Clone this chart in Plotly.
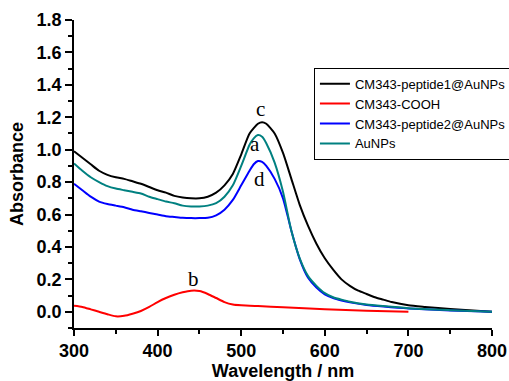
import plotly.graph_objects as go

wl_black = [300, 310, 320, 330, 340, 350, 360, 370, 380, 390, 400, 410, 420, 430, 440, 450, 460, 470, 480, 490, 500, 510, 520, 525, 530, 540, 550, 560, 570, 580, 590, 600, 610, 620, 630, 640, 650, 660, 670, 680, 700, 720, 750, 800]
abs_black = [0.99, 0.95, 0.91, 0.87, 0.845, 0.83, 0.82, 0.805, 0.79, 0.77, 0.75, 0.735, 0.715, 0.705, 0.70, 0.70, 0.71, 0.735, 0.78, 0.85, 0.97, 1.10, 1.16, 1.17, 1.16, 1.10, 0.98, 0.82, 0.66, 0.53, 0.42, 0.33, 0.26, 0.20, 0.16, 0.13, 0.11, 0.09, 0.075, 0.06, 0.04, 0.03, 0.017, 0.0]

wl_teal = [300, 310, 320, 330, 340, 350, 360, 370, 380, 390, 400, 410, 420, 430, 440, 450, 460, 470, 480, 490, 500, 510, 515, 520, 525, 530, 540, 550, 560, 570, 580, 590, 600, 610, 620, 630, 650, 670, 700, 750, 800]
abs_teal = [0.915, 0.87, 0.83, 0.80, 0.775, 0.76, 0.75, 0.74, 0.73, 0.71, 0.695, 0.68, 0.67, 0.655, 0.65, 0.65, 0.655, 0.67, 0.71, 0.78, 0.90, 1.03, 1.07, 1.09, 1.08, 1.04, 0.92, 0.74, 0.50, 0.33, 0.22, 0.16, 0.115, 0.09, 0.075, 0.062, 0.045, 0.035, 0.022, 0.01, 0.0]

wl_blue = [300, 310, 320, 330, 340, 350, 360, 370, 380, 390, 400, 410, 420, 430, 440, 450, 460, 470, 480, 490, 500, 510, 515, 520, 525, 530, 540, 550, 560, 570, 580, 590, 600, 610, 620, 630, 650, 670, 700, 750, 800]
abs_blue = [0.79, 0.75, 0.71, 0.68, 0.665, 0.655, 0.645, 0.63, 0.62, 0.61, 0.60, 0.59, 0.585, 0.58, 0.578, 0.578, 0.58, 0.595, 0.63, 0.69, 0.78, 0.87, 0.91, 0.93, 0.925, 0.90, 0.82, 0.70, 0.50, 0.325, 0.21, 0.15, 0.108, 0.085, 0.07, 0.058, 0.042, 0.032, 0.02, 0.008, 0.0]

wl_red = [300, 310, 320, 330, 340, 350, 360, 370, 380, 390, 400, 410, 420, 430, 440, 450, 460, 470, 480, 490, 500, 520, 550, 600, 650, 700]
abs_red = [0.037, 0.03, 0.015, 0.0, -0.015, -0.028, -0.025, -0.012, 0.005, 0.03, 0.06, 0.085, 0.105, 0.12, 0.13, 0.128, 0.11, 0.085, 0.06, 0.045, 0.04, 0.035, 0.028, 0.015, 0.007, 0.0]

names = ["CM343-peptide1@AuNPs", "CM343-COOH", "CM343-peptide2@AuNPs", "AuNPs"]
colors = ["#000000", "#FF0000", "#0000FF", "#008080"]

curve_labels = ["c", "a", "d", "b"]
label_x = [523, 517, 522, 443]
label_y = [1.25, 1.035, 0.82, 0.20]

fig = go.Figure()
series = [(wl_black, abs_black), (wl_red, abs_red), (wl_blue, abs_blue), (wl_teal, abs_teal)]
for (x, y), n, c in zip(series, names, colors):
    fig.add_trace(go.Scatter(x=x, y=y, mode="lines", name=n,
                             line=dict(color=c, width=2, shape="spline", smoothing=0.6)))

for t, x, y in zip(curve_labels, label_x, label_y):
    fig.add_annotation(x=x, y=y, text=t, showarrow=False,
                       font=dict(family="Liberation Serif", size=21, color="#000"))

SANS = "Liberation Sans, Arial"
fig.update_layout(
    width=509, height=381,
    margin=dict(l=74, r=17, t=20, b=53, autoexpand=False),
    paper_bgcolor="white", plot_bgcolor="white",
    font=dict(family=SANS, color="#000"),
    showlegend=True,
    legend=dict(x=0.574, y=0.845, xanchor="left", yanchor="top",
                bordercolor="#000", borderwidth=1, bgcolor="white",
                font=dict(family=SANS, size=13, color="#000"),
                tracegroupgap=0, itemwidth=30),
    xaxis=dict(range=[300, 800], tickvals=[300, 400, 500, 600, 700, 800],
               ticks="outside", ticklen=6, tickwidth=1.5, tickcolor="#000",
               showline=True, linecolor="#000", linewidth=1.5, showgrid=False, zeroline=False,
               minor=dict(dtick=50, ticks="outside", ticklen=4, tickcolor="#000", tickwidth=1.5, showgrid=False),
               tickfont=dict(family=SANS, size=18, color="#000", weight="bold"),
               title=dict(text="<b>Wavelength / nm</b>", font=dict(family=SANS, size=18, color="#000"), standoff=7)),
    yaxis=dict(range=[-0.1, 1.8], tickvals=[0, 0.2, 0.4, 0.6, 0.8, 1.0, 1.2, 1.4, 1.6, 1.8],
               tickformat=".1f",
               ticks="outside", ticklen=7, tickwidth=1.5, tickcolor="#000",
               showline=True, linecolor="#000", linewidth=1.5, showgrid=False, zeroline=False,
               minor=dict(dtick=0.1, tick0=0, ticks="outside", ticklen=4, tickcolor="#000", tickwidth=1.5, showgrid=False),
               tickfont=dict(family=SANS, size=18, color="#000", weight="bold"),
               title=dict(text="<b>Absorbance</b>", font=dict(family=SANS, size=18, color="#000"), standoff=8)),
)

fig.write_html("out.html")
